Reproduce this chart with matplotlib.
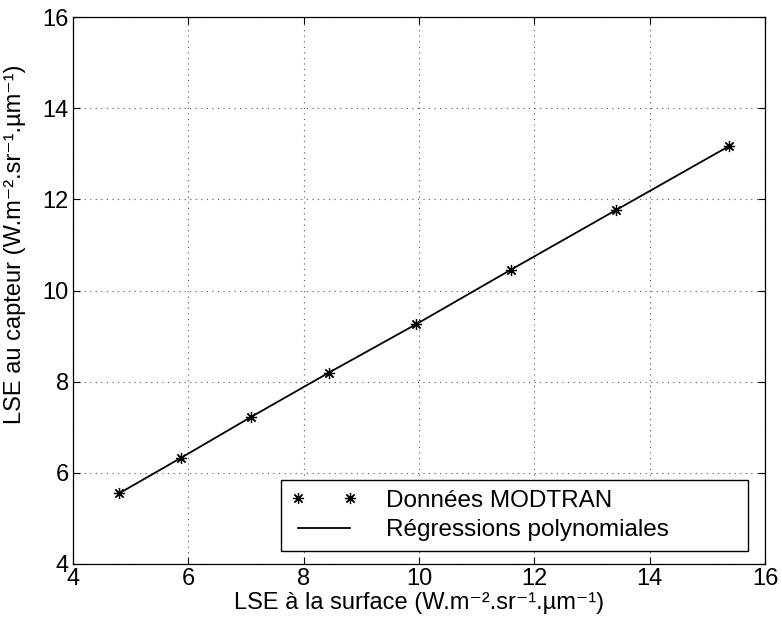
import matplotlib
matplotlib.use("Agg")
import matplotlib.pyplot as plt

# Data
lse_surface = [4.80, 5.875, 7.08, 8.44, 9.95, 11.60, 13.41, 15.38]
lse_capteur = [5.55, 6.33, 7.22, 8.20, 9.26, 10.46, 11.76, 13.17]

x_ticks = [4, 6, 8, 10, 12, 14, 16]
y_ticks = [4, 6, 8, 10, 12, 14, 16]

plt.rcParams['font.family'] = ['Liberation Sans', 'DejaVu Sans']

fig = plt.figure(figsize=(7.82, 6.27), dpi=100)
ax = fig.add_axes([73/782, (627-564)/627, (765-73)/782, (564-17)/627])

ax.plot(lse_surface, lse_capteur, linestyle='none', marker=(8, 2, 0),
        markersize=8, color='black', markeredgewidth=0.9,
        label='Données MODTRAN')
ax.plot(lse_surface, lse_capteur, linestyle='-', color='black',
        linewidth=1.3, label='Régressions polynomiales')

ax.set_xlim(4, 16)
ax.set_ylim(4, 16)
ax.set_xticks(x_ticks)
ax.set_yticks(y_ticks)
ax.tick_params(direction='in', top=True, right=True, labelsize=17,
               length=5, width=0.8, pad=3)
ax.grid(True, linestyle=(0, (1, 4)), color='#555555', linewidth=0.8)

for s in ax.spines.values():
    s.set_linewidth(0.9)

ax.set_xlabel('LSE à la surface (W.m⁻².sr⁻¹.µm⁻¹)', fontsize=17, labelpad=1)
ax.set_ylabel('LSE au capteur (W.m⁻².sr⁻¹.µm⁻¹)', fontsize=17)
ax.yaxis.set_label_coords(-0.068, 0.585)

leg = ax.legend(loc='lower left', bbox_to_anchor=(0.3006, 0.0238, 0.6748, 0.1),
                mode='expand', numpoints=2, fontsize=17.5, handlelength=2.75,
                handletextpad=1.18, borderpad=0.4, labelspacing=0.3,
                fancybox=False, framealpha=1, edgecolor='black',
                borderaxespad=0)
leg.get_frame().set_linewidth(1.0)

fig.savefig('out.png', dpi=100)
